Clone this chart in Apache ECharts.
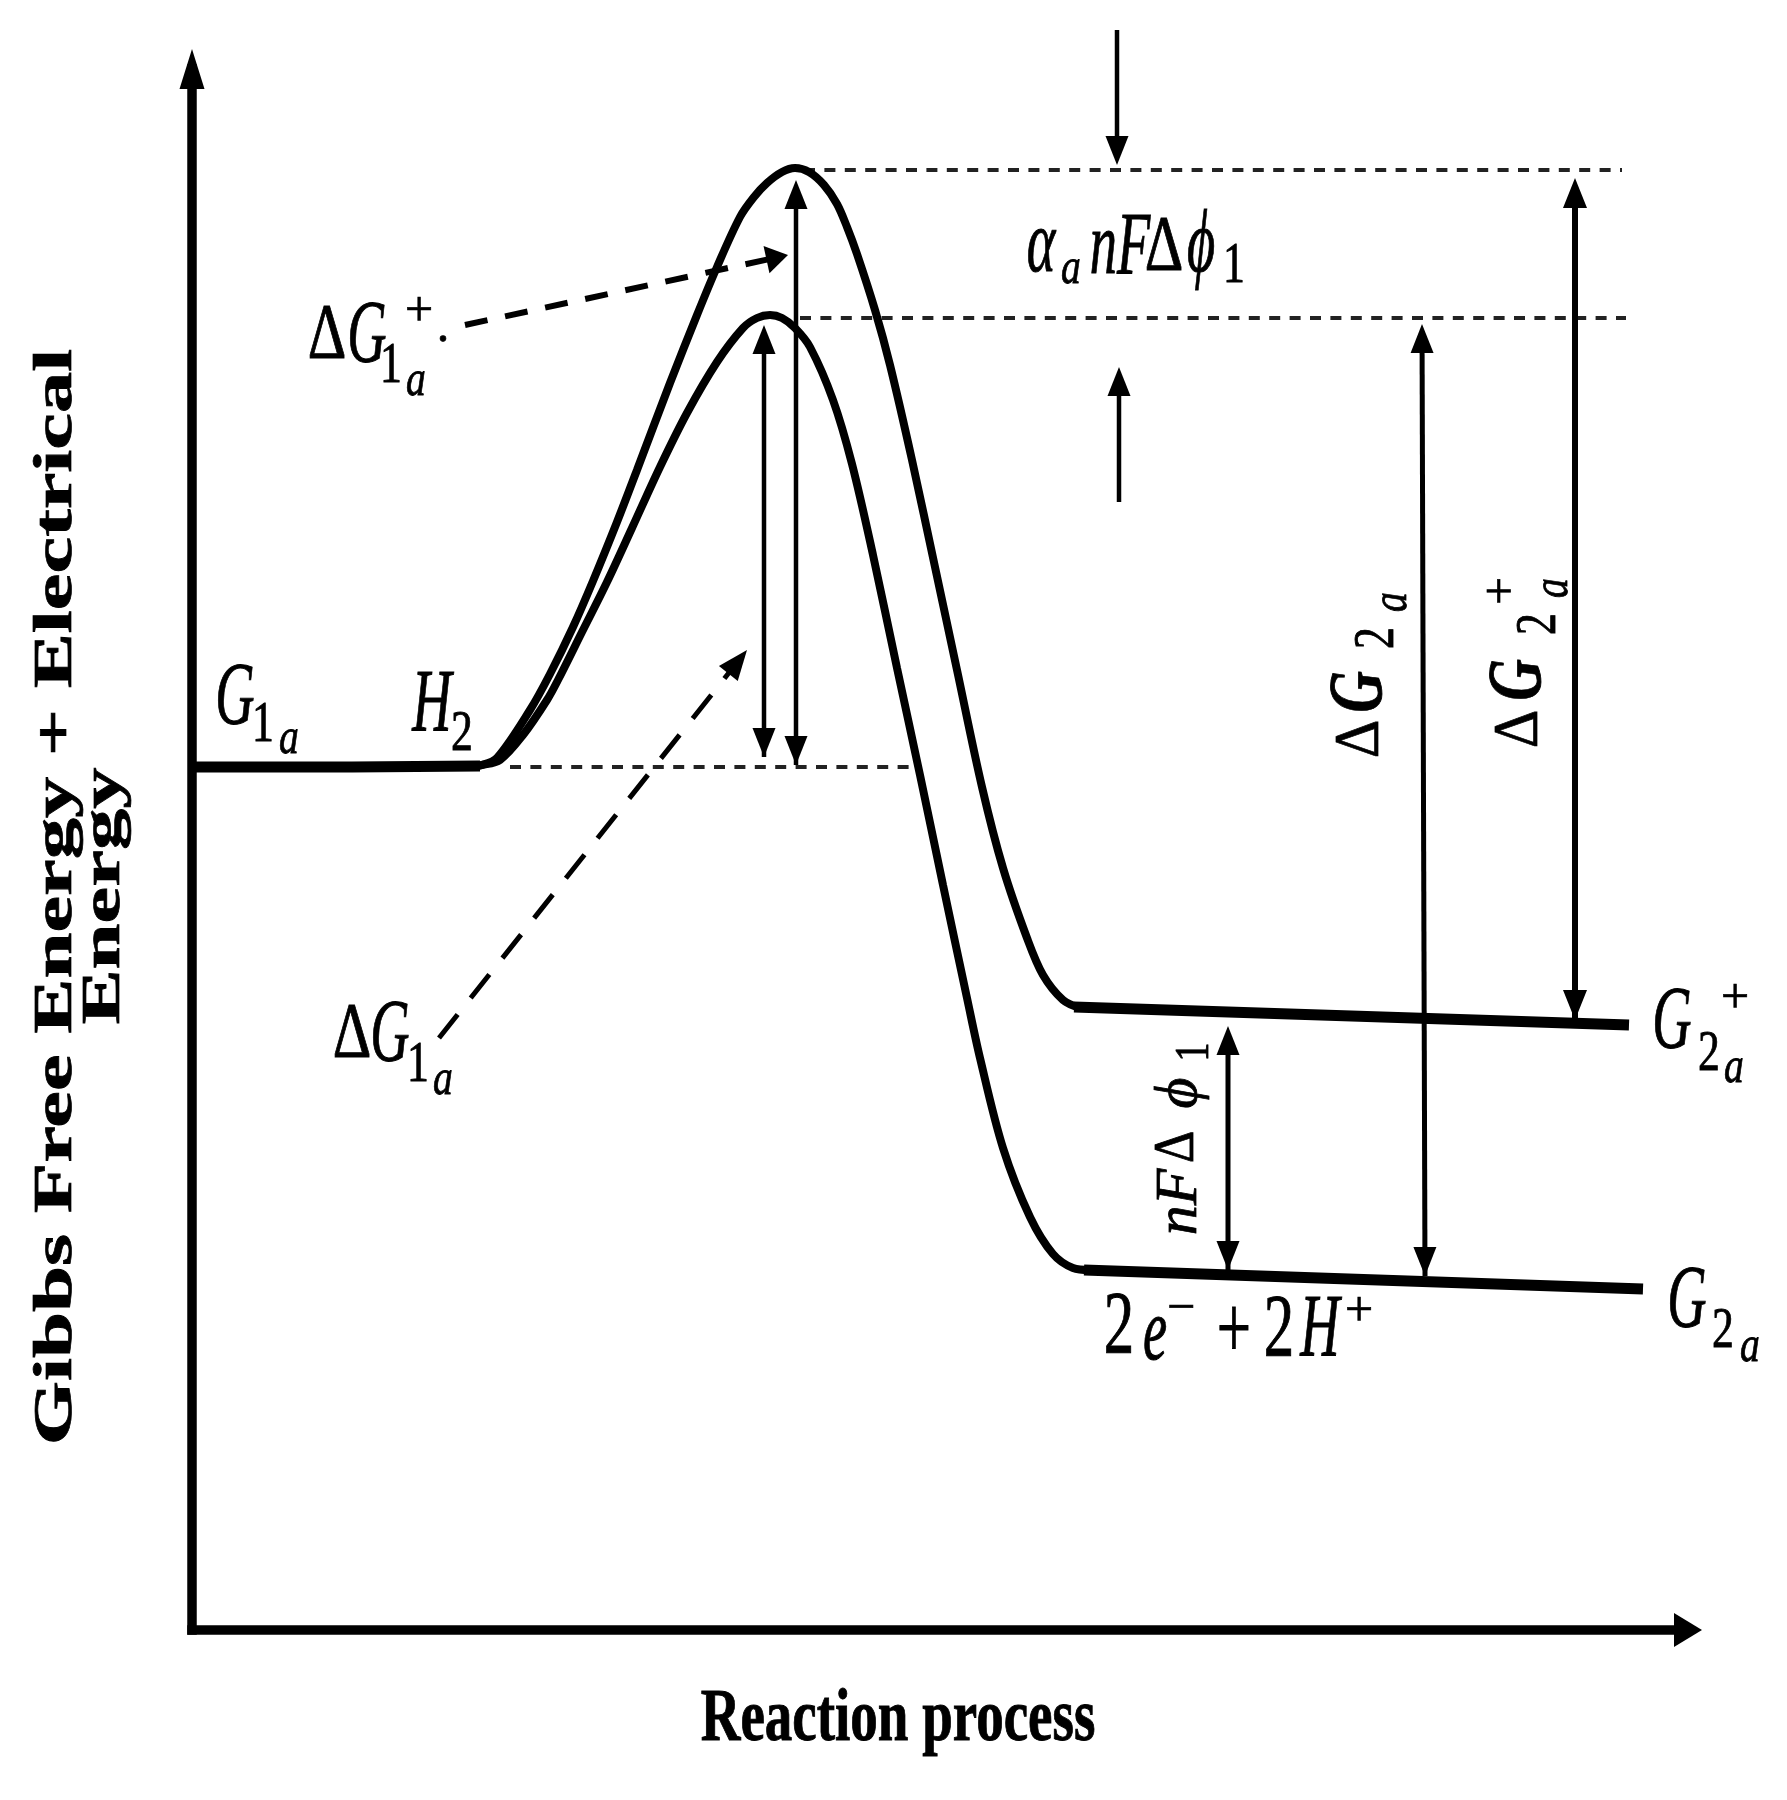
<!DOCTYPE html>
<html>
<head>
<meta charset="utf-8">
<title>Gibbs free energy</title>
<script src="https://cdn.jsdelivr.net/npm/echarts@6/dist/echarts.min.js"></script>
<style>
  html, body { margin: 0; padding: 0; background: #fff; }
  #main { width: 1787px; height: 1800px; }
</style>
</head>
<body>
<div id="main"></div>
<script>
// energy curves (x along the reaction, y energy)
var startFlat = [[0, 863], [160, 863], [288, 864]];
var upperCurve = [[275, 863], [290, 865], [305, 872], [338, 920], [358, 956], [381, 1003], [401, 1049], [425, 1108], [445, 1160], [478, 1247], [505, 1315], [525, 1363], [548, 1413], [562, 1433], [575, 1447], [590, 1458], [603, 1462], [617, 1458], [632, 1445], [645, 1426], [655, 1403], [665, 1376], [683, 1320], [698, 1265], [720, 1170], [743, 1063], [765, 960], [790, 843], [811, 762], [835, 692], [851, 655], [871, 630], [888, 622]];
var lowerCurve = [[275, 863], [290, 865], [308, 870], [331, 895], [355, 930], [366, 950], [390, 998], [415, 1048], [440, 1102], [468, 1163], [495, 1217], [525, 1268], [551, 1302], [565, 1312], [578, 1315], [590, 1312], [603, 1302], [618, 1283], [641, 1230], [660, 1166], [681, 1075], [705, 962], [728, 855], [751, 745], [775, 632], [788, 572], [811, 482], [838, 413], [861, 376], [881, 362], [898, 360]];
var upperTail = [[882, 623], [1437, 605]];
var lowerTail = [[892, 360], [1451, 341]];

// dashed guide levels
var guideTop = [[612, 1460], [1430, 1460]];
var guideMid = [[608, 1312], [1434, 1312]];
var guideLow = [[318, 863], [721, 863]];

// arrows: x1, y1, x2, y2 (x2, y2 is the tip)
var arrows = [
    [572, 873, 572, 1305],
    [604, 865, 604, 1450],
    [925, 1600, 925, 1465],
    [927, 1128, 927, 1263],
    [1233, 354, 1230, 1306],
    [1383, 610, 1383, 1452],
    [1036, 360, 1036, 604],
    [273, 1305, 596, 1375],
    [247, 592, 555, 980]
];
var arrowBoth = [true, true, false, false, true, true, true, false, false];
var arrowKinds = ['thin', 'thin', 'thin', 'thin', 'mid', 'wide', 'mid', 'dashA', 'dashB'];

// math annotations, split where the sub and superscripts sit, then the axis titles
var labelTexts = ['G', '1', 'a', 'H', '2', 'Δ', 'G', '1', 'a', '+', '.', 'Δ', 'G', '1', 'a', 'α', 'a', 'nF', 'Δ', 'ϕ', '1', 'Δ', 'G', '2', 'a', 'Δ', 'G', '2', 'a', '+', 'nF', 'Δ', 'ϕ', '1', 'G', '2', 'a', '+', 'G', '2', 'a', '2', 'e', '−', '+', '2', 'H', '+', 'Reaction process', 'Gibbs Free Energy + Electrical', 'Energy'];
var labelX = [43, 71, 97, 240, 270, 135, 175, 199, 224, 227, 251, 160, 198, 226, 251, 849, 879, 928, 972, 1009, 1042, 1169, 1169, 1186, 1201, 1328, 1328, 1348, 1362, 1311, 988, 986, 988, 1003, 1480, 1517, 1542, 1543, 1495, 1531, 1558, 927, 963, 989, 1042, 1087, 1128, 1167, 706, -135, -87];
var labelY = [931, 904, 890, 924, 895, 1293, 1293, 1263, 1248, 1317, 1302, 594, 594, 564, 549, 1383, 1360, 1381, 1381, 1383, 1363, 891, 938, 992, 1028, 901, 950, 1006, 1042, 1039, 428, 483, 537, 578, 607, 575, 561, 630, 328, 298, 282, 302, 295, 320, 297, 299, 299, 317, -91, 733, 734];
var labelKinds = ['main', 'sub', 'subsub', 'main', 'sub', 'delta', 'main', 'sub', 'subsub', 'sup', 'sup', 'delta', 'main', 'sub', 'subsub', 'main', 'subsub', 'main', 'delta', 'main', 'sub', 'deltaTurn', 'heavy', 'sub', 'subsub', 'deltaTurn', 'heavy', 'sub', 'subsub', 'sup', 'small', 'smallDelta', 'small', 'subSmall', 'main', 'sub', 'subsub', 'sup', 'main', 'sub', 'subsub', 'num', 'main', 'sup', 'num', 'num', 'main', 'sup', 'xTitle', 'yTitle', 'yTitle'];
var labelTurned = [21, 22, 23, 24, 25, 26, 27, 28, 29, 30, 31, 32, 33, 49, 50];

var arrowStyles = {
    thin: { width: 4.5, headW: 23, headL: 29, dash: null },
    mid: { width: 5, headW: 23, headL: 29, dash: null },
    wide: { width: 6, headW: 24, headL: 30, dash: null },
    dashA: { width: 6, headW: 28, headL: 22, dash: [23, 18] },
    dashB: { width: 5, headW: 24, headL: 30, dash: [30, 21] }
};
var textStyles = {
    main: { font: 'italic 64px "Liberation Serif"', sx: 0.85, sy: 1.4 },
    heavy: { font: 'italic bold 64px "Liberation Serif"', sx: 0.9, sy: 1.2 },
    delta: { font: '60px "Liberation Serif"', sx: 1, sy: 1.3 },
    deltaTurn: { font: '60px "Liberation Serif"', sx: 1, sy: 1.05 },
    num: { font: '64px "Liberation Serif"', sx: 0.95, sy: 1.4 },
    sub: { font: '46px "Liberation Serif"', sx: 0.95, sy: 1.25 },
    subSmall: { font: '40px "Liberation Serif"', sx: 0.95, sy: 1.2 },
    subsub: { font: 'italic 44px "Liberation Serif"', sx: 0.9, sy: 1.15 },
    sup: { font: '50px "Liberation Serif"', sx: 1, sy: 1 },
    small: { font: 'italic 52px "Liberation Serif"', sx: 1.15, sy: 1.15 },
    smallDelta: { font: '50px "Liberation Serif"', sx: 1, sy: 1.15 },
    xTitle: { font: 'bold 55px "Liberation Serif"', sx: 1, sy: 1.35 },
    yTitle: { font: 'bold 54px "Liberation Serif"', sx: 1.53, sy: 1 }
};

function curve(points, width, smooth) {
    return {
        type: 'line', data: points, showSymbol: false, smooth: smooth, silent: true,
        lineStyle: { color: '#000', width: width, cap: 'butt' }, z: 3
    };
}

function guide(points) {
    return {
        type: 'line', data: points, showSymbol: false, silent: true,
        lineStyle: { color: '#222', width: 4, type: [11, 9.4] }, z: 1
    };
}

function head(tx, ty, ux, uy, st) {
    var bx = tx - ux * st.headL, by = ty - uy * st.headL;
    return {
        type: 'polygon',
        shape: { points: [[tx, ty], [bx - uy * st.headW / 2, by + ux * st.headW / 2], [bx + uy * st.headW / 2, by - ux * st.headW / 2]] },
        style: { fill: '#000' }
    };
}

function renderArrow(params, api) {
    var a = api.coord([api.value(0), api.value(1)]);
    var b = api.coord([api.value(2), api.value(3)]);
    var i = api.value(4);
    var st = arrowStyles[arrowKinds[i]];
    var len = Math.sqrt((b[0] - a[0]) * (b[0] - a[0]) + (b[1] - a[1]) * (b[1] - a[1]));
    var ux = (b[0] - a[0]) / len, uy = (b[1] - a[1]) / len;
    return {
        type: 'group',
        children: [
            {
                type: 'line',
                shape: { x1: a[0], y1: a[1], x2: b[0] - ux * st.headL * 0.8, y2: b[1] - uy * st.headL * 0.8 },
                style: { stroke: '#000', lineWidth: st.width, lineDash: st.dash, fill: null }
            },
            head(b[0], b[1], ux, uy, st)
        ].concat(arrowBoth[i] ? [head(a[0], a[1], -ux, -uy, st)] : [])
    };
}

function renderLabel(params, api) {
    var p = api.coord([api.value(0), api.value(1)]);
    var i = api.value(2);
    var st = textStyles[labelKinds[i]];
    return {
        type: 'text',
        x: p[0], y: p[1],
        scaleX: st.sx, scaleY: st.sy,
        rotation: labelTurned.indexOf(i) >= 0 ? Math.PI / 2 : 0,
        style: { text: labelTexts[i], font: st.font, fill: '#000', stroke: '#000', lineWidth: 0.7, align: 'center', verticalAlign: 'middle' }
    };
}

var chart = echarts.init(document.getElementById('main'));
chart.setOption({
    animation: false,
    backgroundColor: '#fff',
    grid: { left: 192, top: 69, width: 1496, height: 1561, outerBoundsMode: 'none' },
    xAxis: {
        type: 'value', min: 0, max: 1496,
        axisLine: { onZero: false, symbol: ['none', 'triangle'], symbolSize: [34, 28], lineStyle: { color: '#000', width: 9.5, cap: 'square' } },
        axisTick: { show: false }, axisLabel: { show: false }, splitLine: { show: false }
    },
    yAxis: {
        type: 'value', min: 0, max: 1561,
        axisLine: { onZero: false, symbol: ['none', 'triangle'], symbolSize: [25, 40], lineStyle: { color: '#000', width: 9.5, cap: 'square' } },
        axisTick: { show: false }, axisLabel: { show: false }, splitLine: { show: false }
    },
    series: [
        guide(guideTop), guide(guideMid), guide(guideLow),
        curve(upperCurve, 8, 0.33), curve(lowerCurve, 8, 0.33),
        curve(startFlat, 11, false), curve(upperTail, 11, false), curve(lowerTail, 11, false),
        {
            type: 'custom', coordinateSystem: 'cartesian2d', silent: true, clip: false, z: 4,
            renderItem: renderArrow,
            data: arrows.map(function (a, i) { return a.concat(i); })
        },
        {
            type: 'custom', coordinateSystem: 'cartesian2d', silent: true, clip: false, z: 5,
            renderItem: renderLabel,
            data: labelTexts.map(function (t, i) { return [labelX[i], labelY[i], i]; })
        }
    ]
});
</script>
</body>
</html>
